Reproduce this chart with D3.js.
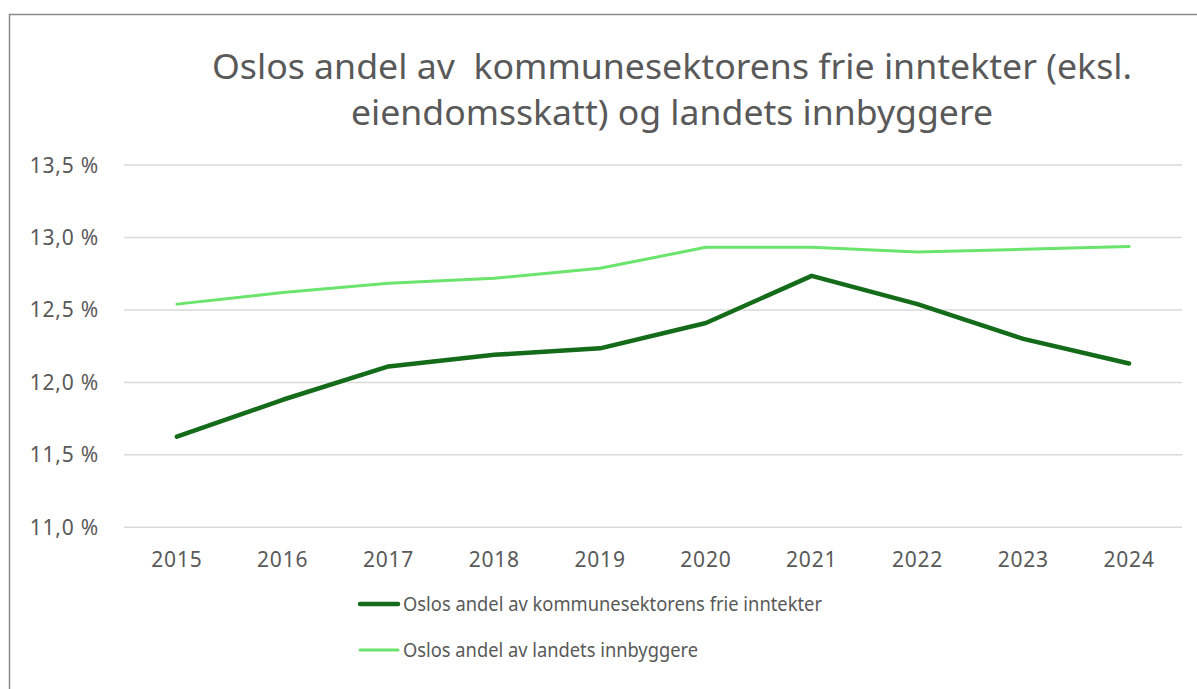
<!DOCTYPE html>
<html><head><meta charset="utf-8">
<script src="https://cdn.jsdelivr.net/npm/d3@7/dist/d3.min.js"></script>
<style>
html,body{margin:0;padding:0;background:#fff;}
svg{display:block;font-family:"Noto Sans",sans-serif;}
</style></head>
<body><svg id="c" width="1197" height="689"></svg>
<script>
const years = ["2015","2016","2017","2018","2019","2020","2021","2022","2023","2024"];
const inntekter = [11.625, 11.88, 12.11, 12.19, 12.235, 12.41, 12.735, 12.54, 12.3, 12.13];
const innbyggere = [12.54, 12.62, 12.684, 12.718, 12.787, 12.932, 12.932, 12.9, 12.918, 12.937];
const yTicks = [11.0, 11.5, 12.0, 12.5, 13.0, 13.5];
const seriesNames = ["Oslos andel av kommunesektorens frie inntekter", "Oslos andel av landets innbyggere"];
const titleLines = ["Oslos andel av  kommunesektorens frie inntekter (eksl.", "eiendomsskatt) og landets innbyggere"];

const svg = d3.select("#c");
const textColor = "#595959";
const colors = ["#146b1a", "#6ae46c"];

// frame
svg.append("path").attr("d","M9.5,689 V14.5 H1197").attr("fill","none").attr("stroke","#8a8a8a").attr("stroke-width",1.5);

const x = d3.scalePoint().domain(years).range([124,1182]).padding(0.5);
const y = d3.scaleLinear().domain([11.0,13.5]).range([527.3,165]);

// gridlines
svg.append("g").selectAll("line").data(yTicks).join("line")
  .attr("x1",124).attr("x2",1182)
  .attr("y1",d=>y(d)).attr("y2",d=>y(d))
  .attr("stroke","#d9d9d9").attr("stroke-width",1.5);

// y axis labels
const fmt = d => d.toFixed(1).replace(".", ",") + " %";
svg.append("g").selectAll("text").data(yTicks).join("text")
  .attr("x",99).attr("y",d=>y(d)+7.5)
  .attr("text-anchor","end").attr("font-size",21).attr("fill",textColor)
  .attr("letter-spacing",0.8)
  .text(fmt);

// x axis labels
svg.append("g").selectAll("text").data(years).join("text")
  .attr("x",d=>x(d)).attr("y",567)
  .attr("text-anchor","middle").attr("font-size",21).attr("fill",textColor)
  .attr("letter-spacing",0.8)
  .text(d=>d);

// lines
const line = d3.line().x((d,i)=>x(years[i])).y(d=>y(d));
svg.append("path").datum(innbyggere).attr("d",line).attr("fill","none")
  .attr("stroke",colors[1]).attr("stroke-width",3).attr("stroke-linecap","round").attr("stroke-linejoin","round");
svg.append("path").datum(inntekter).attr("d",line).attr("fill","none")
  .attr("stroke",colors[0]).attr("stroke-width",4.5).attr("stroke-linecap","round").attr("stroke-linejoin","round");

// title
const tY = [79, 125], tW = [920, 642];
titleLines.forEach((t,i)=>{
  svg.append("text").attr("x",672).attr("y",tY[i]).attr("text-anchor","middle")
    .attr("font-size",34).attr("fill",textColor).style("white-space","pre")
    .attr("textLength",tW[i]).attr("lengthAdjust","spacingAndGlyphs").text(t);
});

// legend
const legY = [604, 650];
const legW = [419, 295];
seriesNames.forEach((n,i)=>{
  svg.append("line").attr("x1",360).attr("x2",398).attr("y1",legY[i]).attr("y2",legY[i])
    .attr("stroke",colors[i]).attr("stroke-width",i===0?4.5:3).attr("stroke-linecap","round");
  svg.append("text").attr("x",403).attr("y",legY[i]+7).attr("font-size",19.5).attr("fill",textColor)
    .attr("textLength",legW[i]).attr("lengthAdjust","spacingAndGlyphs").text(n);
});
</script></body></html>
